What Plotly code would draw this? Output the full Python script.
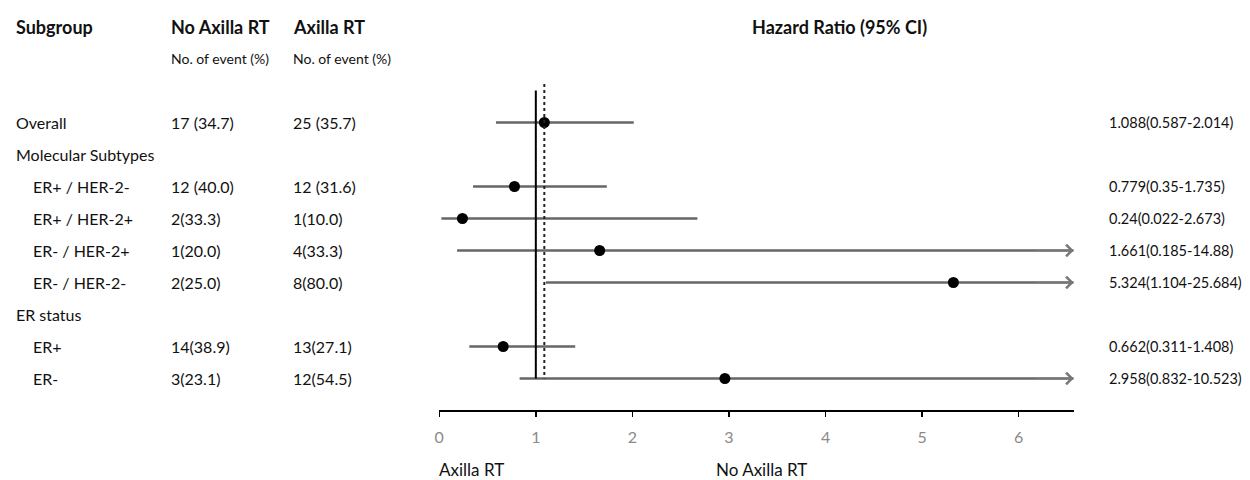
import plotly.graph_objects as go

# ---------------- data ----------------
subgroups = ["Overall", "Molecular Subtypes", "ER+ / HER-2-", "ER+ / HER-2+",
             "ER- / HER-2+", "ER- / HER-2-", "ER status", "ER+", "ER-"]
indented = [False, False, True, True, True, True, False, True, True]
no_axilla_events = ["17 (34.7)", "", "12 (40.0)", "2(33.3)", "1(20.0)", "2(25.0)",
                    "", "14(38.9)", "3(23.1)"]
axilla_events = ["25 (35.7)", "", "12 (31.6)", "1(10.0)", "4(33.3)", "8(80.0)",
                 "", "13(27.1)", "12(54.5)"]
hazard_ratio = [1.088, None, 0.779, 0.24, 1.661, 5.324, None, 0.662, 2.958]
ci_lower = [0.587, None, 0.35, 0.022, 0.185, 1.104, None, 0.311, 0.832]
ci_upper = [2.014, None, 1.735, 2.673, 14.88, 25.684, None, 1.408, 10.523]
x_ticks = [0, 1, 2, 3, 4, 5, 6]
null_hr = 1

# ---------------- layout geometry ----------------
W, H = 1250, 480
ROW0_PX, ROW_PX = 122.5, 32.0
AXIS_PX = 410.0
X_LEFT_PX, X_RIGHT_PX = 436.0, 1073.0
X_MAX = 6.57
FONT = "Lato"
TXT = "#111111"
CI_COLOR = "#666666"


def row_of(px):
    return (px - ROW0_PX) / ROW_PX


def px_x(px):
    return px / W


def px_y(px):
    return 1 - px / H


rows = list(range(len(subgroups)))
fig = go.Figure()

# CI lines
for r, lo, hi in zip(rows, ci_lower, ci_upper):
    if lo is None:
        continue
    fig.add_trace(go.Scatter(
        x=[lo, min(hi, X_MAX)], y=[r, r], mode="lines",
        line=dict(color=CI_COLOR, width=2.4), hoverinfo="skip", showlegend=False))

# reference lines
last_row = rows[-1]
fig.add_shape(type="line", x0=null_hr, x1=null_hr, y0=-1.0, y1=last_row,
              xref="x", yref="y", line=dict(color="black", width=2))
fig.add_shape(type="line", x0=hazard_ratio[0], x1=hazard_ratio[0], y0=-1.2, y1=last_row,
              xref="x", yref="y", line=dict(color="#222222", width=2, dash="dot"))

# point estimates
pts = [(r, v) for r, v in zip(rows, hazard_ratio) if v is not None]
fig.add_trace(go.Scatter(
    x=[v for _, v in pts], y=[r for r, _ in pts], mode="markers",
    marker=dict(symbol="circle", size=11, color="black"),
    hoverinfo="skip", showlegend=False))

annotations = []

# arrows for CIs exceeding the axis
for r, lo, hi in zip(rows, ci_lower, ci_upper):
    if lo is not None and hi > X_MAX:
        annotations.append(dict(
            x=X_MAX, y=r, ax=X_MAX - 0.4, ay=r, xref="x", yref="y",
            axref="x", ayref="y", text="", showarrow=True, arrowhead=4,
            arrowsize=1.5, arrowwidth=1.5, arrowcolor="#777777", standoff=0))


# headers
def hdr(text, xpx, ypx, size=18, bold=True, anchor="left"):
    annotations.append(dict(
        x=px_x(xpx), y=px_y(ypx), xref="paper", yref="paper",
        text=f"<b>{text}</b>" if bold else text, showarrow=False,
        xanchor=anchor, yanchor="middle", borderpad=0, borderwidth=0,
        font=dict(family=FONT, size=size, color=TXT)))


hdr("Subgroup", 11, 27)
hdr("No Axilla RT", 167, 27)
hdr("Axilla RT", 289, 27)
hdr("Hazard Ratio (95% CI)", 838, 27, anchor="center")
hdr("No. of event (%)", 167, 58, size=14, bold=False)
hdr("No. of event (%)", 289, 58, size=14, bold=False)

# table rows
for r, name, ind, a, b, hr, lo, hi in zip(rows, subgroups, indented, no_axilla_events,
                                          axilla_events, hazard_ratio, ci_lower, ci_upper):
    annotations.append(dict(
        x=px_x(28 if ind else 11), y=r, xref="paper", yref="y", text=name,
        showarrow=False, xanchor="left", yanchor="middle", borderpad=0, borderwidth=0,
        font=dict(family=FONT, size=16, color=TXT)))
    for col_px, txt in ((167, a), (289, b)):
        if txt:
            annotations.append(dict(
                x=px_x(col_px), y=r, xref="paper", yref="y", text=txt,
                showarrow=False, xanchor="left", yanchor="middle",
                borderpad=0, borderwidth=0,
                font=dict(family=FONT, size=16, color=TXT)))
    if hr is not None:
        annotations.append(dict(
            x=px_x(1108), y=r, xref="paper", yref="y",
            text=f"{hr}({lo}-{hi})", showarrow=False, xanchor="left",
            yanchor="middle", borderpad=0, borderwidth=0,
            font=dict(family=FONT, size=14.5, color=TXT)))

# bottom direction labels
hdr("Axilla RT", 436, 469, size=17, bold=False)
hdr("No Axilla RT", 714, 469, size=17, bold=False)

fig.update_layout(
    width=W, height=H, margin=dict(l=0, r=0, t=0, b=0),
    paper_bgcolor="white", plot_bgcolor="white",
    annotations=annotations,
    xaxis=dict(
        domain=[px_x(X_LEFT_PX), px_x(X_RIGHT_PX)], range=[0, X_MAX],
        tickvals=x_ticks, ticktext=[str(t) for t in x_ticks],
        showgrid=False, zeroline=False, showline=True, linecolor="black", linewidth=2,
        ticks="outside", ticklen=5, tickwidth=1.5, tickcolor="black",
        ticklabelstandoff=7,
        tickfont=dict(family=FONT, size=16, color="#8a8a8a")),
    yaxis=dict(
        domain=[px_y(AXIS_PX), 1], range=[row_of(AXIS_PX), row_of(0)],
        visible=False, showgrid=False, zeroline=False),
)

fig.write_html(
    "out.html",
    config={"displayModeBar": False, "staticPlot": True},
    post_script="document.body.style.margin='0';document.body.style.overflow='hidden';",
)
